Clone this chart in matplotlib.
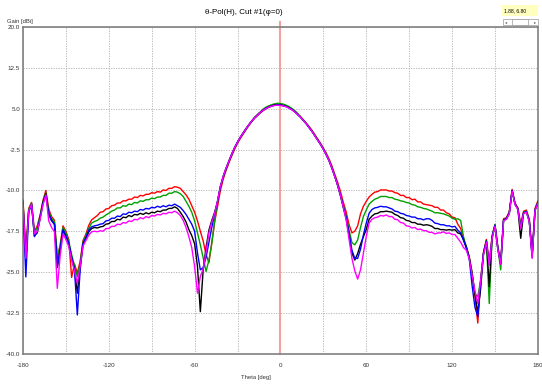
"""
Antenna pattern cut: theta-pol (H), cut #1 (phi = 0), five measurements.
"""
import numpy as np
import matplotlib.pyplot as plt
from matplotlib.patches import Rectangle

# theta sampling grid, 2 deg
THETA = np.arange(-180, 181, 2)

# gain [dBi] per measurement, one value per THETA sample
RED = [
    # -180 .. -130
    -11.8, -21.0, -13.3, -12.2, -17.5, -16.5, -14.5, -11.8, -10.0, -13.4, -14.8, -15.5, -22.5,
    -20.0, -16.5, -17.5, -19.0, -26.0, -23.5, -25.2, -23.0, -19.2, -18.0, -16.4, -15.4, -15.0,
    # -128 .. -64
    -14.6, -14.0, -13.9, -13.4, -13.3, -12.8, -12.7, -12.3, -12.3, -11.9, -11.9, -11.6, -11.6,
    -11.2, -11.3, -10.9, -11.0, -10.7, -10.7, -10.4, -10.5, -10.2, -10.3, -9.9, -10.0, -9.6,
    -9.6, -9.3, -9.4, -9.6, -10.2, -10.8, -11.6,
    # -62 .. -46
    -12.8, -14.0, -15.6, -17.5, -19.3, -21.8, -23.3, -19.5, -15.8,
    # -44 .. 44
    -13.0, -10.0, -7.9, -6.3, -4.9, -3.6, -2.4, -1.3, -0.4, 0.4, 1.2, 2.0, 2.7, 3.3, 3.8, 4.3,
    4.7, 5.1, 5.35, 5.55, 5.7, 5.8, 5.75, 5.65, 5.5, 5.3, 5.0, 4.6, 4.1, 3.6, 3.0, 2.4, 1.8,
    1.1, 0.3, -0.5, -1.3, -2.2, -3.1, -4.2, -5.5, -7.0, -8.5, -10.2, -12.2,
    # 46 .. 62
    -14.0, -16.3, -17.8, -17.5, -16.5, -14.3, -12.9, -12.0, -11.2,
    # 64 .. 124
    -10.7, -10.3, -10.2, -9.9, -9.9, -9.9, -10.1, -10.1, -10.4, -10.5, -10.9, -10.9, -11.3,
    -11.3, -11.7, -11.6, -12.1, -12.1, -12.5, -12.6, -12.7, -12.8, -13.1, -13.1, -13.6, -13.6,
    -14.1, -14.3, -14.9, -15.0, -16.2,
    # 126 .. 180
    -17.0, -19.0, -20.3, -22.2, -25.0, -29.5, -34.4, -26.3, -21.3, -19.0, -23.2, -18.3, -16.3,
    -20.3, -23.2, -15.2, -15.0, -13.9, -9.8, -12.3, -13.2, -16.2, -13.8, -13.6, -15.3, -21.8,
    -13.3, -11.9,
]

GREEN = [
    -12.0, -21.5, -13.5, -12.3, -17.8, -16.8, -14.6, -12.0, -10.4, -13.8, -15.2, -15.8, -22.0,
    -20.3, -16.8, -17.8, -19.3, -21.8, -23.8, -25.9, -23.3, -19.4, -18.3, -17.0, -16.0, -15.7,
    -15.5, -15.1, -14.9, -14.5, -14.2, -13.8, -13.6, -13.2, -13.2, -12.8, -12.9, -12.5, -12.6,
    -12.2, -12.3, -11.9, -12.0, -11.7, -11.7, -11.4, -11.5, -11.2, -11.2, -10.9, -10.9, -10.5,
    -10.5, -10.2, -10.3, -10.6, -11.1, -12.0, -12.9,
    -14.0, -15.6, -17.8, -20.0, -22.4, -24.9, -22.8, -19.8, -15.6,
    -12.0, -9.3, -7.4, -5.9, -4.6, -3.3, -2.1, -1.1, -0.2, 0.6, 1.4, 2.1, 2.8, 3.5, 4.0, 4.5,
    5.0, 5.35, 5.6, 5.8, 5.95, 6.05, 6.0, 5.9, 5.7, 5.45, 5.1, 4.7, 4.2, 3.6, 3.0, 2.4, 1.7,
    1.0, 0.2, -0.6, -1.4, -2.3, -3.3, -4.4, -5.8, -7.3, -8.9, -10.7, -12.8,
    -14.8, -17.3, -19.6, -20.0, -19.1, -16.8, -14.8, -13.6, -12.5,
    -12.0, -11.6, -11.4, -11.1, -11.1, -11.1, -11.3, -11.3, -11.6, -11.7, -11.9, -12.0, -12.2,
    -12.3, -12.6, -12.7, -13.0, -13.1, -13.3, -13.4, -13.6, -13.8, -14.1, -14.1, -14.2, -14.3,
    -14.5, -14.7, -15.1, -15.3, -15.2,
    -15.5, -18.5, -20.5, -22.3, -25.2, -29.0, -29.5, -26.5, -21.5, -19.2, -30.8, -18.5, -16.2,
    -20.5, -24.6, -15.4, -15.1, -14.1, -10.0, -12.5, -13.3, -16.5, -14.0, -13.8, -15.5, -22.0,
    -13.5, -12.2,
]

BLUE = [
    -12.8, -25.9, -14.0, -12.6, -18.5, -17.5, -15.0, -12.4, -10.8, -14.4, -15.6, -16.2, -24.0,
    -20.8, -17.2, -18.3, -19.7, -22.3, -24.5, -32.9, -24.5, -19.8, -18.7, -17.3, -16.7, -16.5,
    -16.4, -16.2, -16.1, -15.6, -15.5, -15.1, -15.1, -14.7, -14.8, -14.3, -14.4, -14.0, -14.1,
    -13.8, -13.9, -13.5, -13.6, -13.3, -13.4, -13.1, -13.2, -12.9, -13.1, -12.8, -13.0, -12.7,
    -12.8, -12.5, -12.8, -13.1, -13.7, -14.4, -15.3,
    -16.2, -17.5, -21.5, -24.6, -24.2, -22.3, -19.5, -16.8, -14.3,
    -12.0, -9.3, -7.4, -5.9, -4.6, -3.3, -2.1, -1.1, -0.2, 0.6, 1.4, 2.1, 2.8, 3.4, 3.9, 4.4,
    4.8, 5.1, 5.35, 5.55, 5.7, 5.75, 5.7, 5.6, 5.45, 5.2, 4.9, 4.5, 4.0, 3.5, 2.9, 2.3, 1.6,
    0.9, 0.1, -0.7, -1.5, -2.4, -3.4, -4.5, -5.9, -7.4, -9.0, -10.9, -13.0,
    -15.0, -18.0, -21.0, -22.5, -22.5, -20.8, -18.2, -16.0, -14.2,
    -13.5, -13.2, -13.1, -12.9, -13.0, -13.0, -13.2, -13.4, -13.8, -13.9, -14.2, -14.3, -14.6,
    -14.7, -14.9, -14.9, -15.2, -15.2, -15.4, -15.2, -15.2, -15.5, -16.0, -16.1, -16.3, -16.3,
    -16.5, -16.5, -16.7, -16.6, -17.3,
    -17.8, -19.2, -20.6, -22.5, -27.5, -31.5, -33.2, -26.8, -21.6, -19.4, -23.6, -18.6, -16.4,
    -20.6, -23.5, -15.5, -15.2, -14.2, -10.0, -12.5, -13.4, -16.8, -14.1, -13.9, -15.6, -22.3,
    -13.6, -12.3,
]

BLACK = [
    -12.3, -23.0, -13.8, -12.5, -18.3, -17.8, -15.0, -12.2, -10.6, -14.3, -15.5, -16.2, -24.2,
    -21.0, -17.3, -18.5, -19.8, -22.4, -24.5, -28.9, -24.0, -19.8, -18.8, -17.6, -17.0, -16.8,
    -16.9, -16.7, -16.6, -16.2, -16.1, -15.7, -15.7, -15.3, -15.4, -14.9, -15.0, -14.6, -14.8,
    -14.4, -14.5, -14.2, -14.4, -14.1, -14.3, -14.0, -14.1, -13.8, -13.9, -13.6, -13.6, -13.3,
    -13.3, -13.0, -13.3, -14.0, -14.8, -15.8, -17.2,
    -18.3, -19.8, -24.0, -32.3, -24.5, -20.5, -17.3, -15.5, -14.0,
    -12.1, -9.4, -7.5, -6.0, -4.6, -3.3, -2.1, -1.1, -0.2, 0.6, 1.4, 2.1, 2.8, 3.4, 3.9, 4.4,
    4.8, 5.15, 5.4, 5.6, 5.75, 5.8, 5.75, 5.65, 5.5, 5.25, 4.9, 4.5, 4.0, 3.5, 2.9, 2.3, 1.6,
    0.9, 0.1, -0.7, -1.5, -2.4, -3.4, -4.5, -5.9, -7.4, -9.1, -11.0, -13.2,
    -15.2, -18.2, -21.5, -22.8, -21.6, -19.9, -18.5, -17.2, -15.3,
    -14.7, -14.3, -14.2, -13.9, -13.9, -13.8, -13.9, -14.0, -14.4, -14.6, -15.0, -15.1, -15.5,
    -15.6, -15.9, -15.9, -16.2, -16.2, -16.4, -16.3, -16.4, -16.6, -17.0, -17.0, -17.2, -17.2,
    -17.3, -17.2, -17.3, -17.2, -17.8,
    -18.0, -19.0, -20.5, -22.3, -25.5, -29.0, -32.5, -28.0, -21.5, -19.3, -27.7, -18.7, -16.5,
    -20.8, -23.4, -15.5, -15.2, -14.2, -10.0, -12.5, -13.4, -18.8, -14.2, -14.0, -15.6, -22.0,
    -13.6, -12.3,
]

MAGENTA = [
    -12.3, -22.5, -13.8, -12.5, -18.0, -17.5, -15.3, -12.6, -10.8, -15.6, -16.8, -17.6, -28.0,
    -22.0, -18.0, -19.0, -20.3, -22.8, -24.8, -27.1, -23.8, -20.2, -19.2, -18.2, -17.6, -17.5,
    -17.6, -17.4, -17.5, -17.0, -17.0, -16.6, -16.6, -16.2, -16.3, -15.9, -16.0, -15.6, -15.7,
    -15.3, -15.4, -15.0, -15.2, -14.8, -15.0, -14.6, -14.7, -14.4, -14.5, -14.2, -14.3, -14.0,
    -14.1, -13.8, -14.1, -14.6, -15.5, -16.8, -18.5,
    -20.5, -24.0, -28.9, -25.8, -24.4, -21.3, -17.8, -15.8, -14.2,
    -12.0, -9.3, -7.4, -5.9, -4.6, -3.3, -2.1, -1.1, -0.2, 0.6, 1.4, 2.1, 2.8, 3.4, 3.9, 4.4,
    4.8, 5.1, 5.35, 5.55, 5.65, 5.7, 5.65, 5.55, 5.4, 5.15, 4.85, 4.45, 4.0, 3.5, 2.9, 2.3, 1.6,
    0.9, 0.1, -0.7, -1.5, -2.4, -3.4, -4.5, -5.9, -7.4, -9.0, -10.9, -13.1,
    -15.5, -19.0, -22.5, -24.8, -26.3, -24.6, -21.5, -18.5, -16.0,
    -15.3, -15.0, -14.9, -14.6, -14.7, -14.5, -14.8, -14.8, -15.3, -15.4, -15.9, -16.0, -16.5,
    -16.6, -16.9, -16.8, -17.2, -17.1, -17.4, -17.4, -17.7, -17.7, -18.0, -17.8, -17.8, -17.6,
    -17.9, -17.8, -18.1, -18.1, -18.8,
    -19.5, -20.5, -21.0, -22.6, -25.5, -28.5, -30.8, -26.5, -21.8, -19.5, -23.8, -18.8, -16.6,
    -20.8, -23.6, -15.6, -15.3, -14.3, -10.1, -12.6, -13.5, -17.0, -14.2, -14.0, -15.8, -22.5,
    -13.7, -12.4,
]

SERIES = [("red", RED), ("#00a000", GREEN), ("black", BLACK), ("blue", BLUE), ("magenta", MAGENTA)]

Y_TICKS = [20.0, 12.5, 5.0, -2.5, -10.0, -17.5, -25.0, -32.5, -40.0]
X_GRID = list(range(-180, 181, 30))
X_LABELS = [str(t) if t % 60 == 0 else "" for t in X_GRID]

FONT = "Liberation Sans"

fig = plt.figure(figsize=(5.42, 3.85), dpi=100)
ax = fig.add_axes([0.0424, 0.0818, 0.950, 0.8468])

for color, gain in SERIES:
    assert len(gain) == len(THETA)
    ax.plot(THETA, gain, color=color, lw=1.0, zorder=3)

# cursor marker at theta = 0, sticks out a little above the frame
ax.plot([0, 0], [-40, 21], color="#f2a0a0", lw=1.5, zorder=2, clip_on=False)

ax.set_xlim(-180, 180)
ax.set_ylim(-40, 20)
ax.set_xticks(X_GRID)
ax.set_xticklabels(X_LABELS)
ax.set_yticks(Y_TICKS)
ax.set_yticklabels([f"{v:.1f}" for v in Y_TICKS])
ax.tick_params(length=0, labelsize=4.5, colors="#333333")
ax.tick_params(axis="x", pad=7)
ax.tick_params(axis="y", pad=2)
for lab in ax.get_xticklabels() + ax.get_yticklabels():
    lab.set_family(FONT)
ax.grid(True, color="#b0b0b0", lw=0.6, linestyle=(0, (1.5, 1.5)), zorder=1)
for s in ax.spines.values():
    s.set_color("#808080")
    s.set_linewidth(1.2)

fig.text(244 / 542, 1 - 12 / 385, "θ-Pol(H), Cut #1(φ=0)", ha="center", va="center",
         fontsize=5.8, family=FONT)
fig.text(7 / 542, 1 - 21 / 385, "Gain [dBi]", ha="left", va="center", fontsize=4.2, family=FONT,
         color="#333333")
fig.text(256 / 542, 1 - 377 / 385, "Theta [deg]", ha="center", va="center", fontsize=4.2,
         family=FONT, color="#333333")

# cursor readout box and scroll widget, top right
fig.patches.append(Rectangle((502 / 542, 1 - 16 / 385), 36 / 542, 11 / 385,
                             transform=fig.transFigure, facecolor="#ffffc0", edgecolor="none"))
fig.text(504 / 542, 1 - 10.5 / 385, "1.88, 6.80", ha="left", va="center", fontsize=3.6,
         family=FONT)
fig.patches.append(Rectangle((503 / 542, 1 - 25 / 385), 35 / 542, 6 / 385,
                             transform=fig.transFigure, facecolor="white",
                             edgecolor="#9a9a9a", lw=0.5))
fig.patches.append(Rectangle((512 / 542, 1 - 25 / 385), 16 / 542, 6 / 385,
                             transform=fig.transFigure, facecolor="white",
                             edgecolor="#9a9a9a", lw=0.5))
fig.text(506 / 542, 1 - 22 / 385, "◂", ha="center", va="center", fontsize=3, color="#555555")
fig.text(535 / 542, 1 - 22 / 385, "▸", ha="center", va="center", fontsize=3, color="#555555")

fig.savefig("out.png", dpi=100)
